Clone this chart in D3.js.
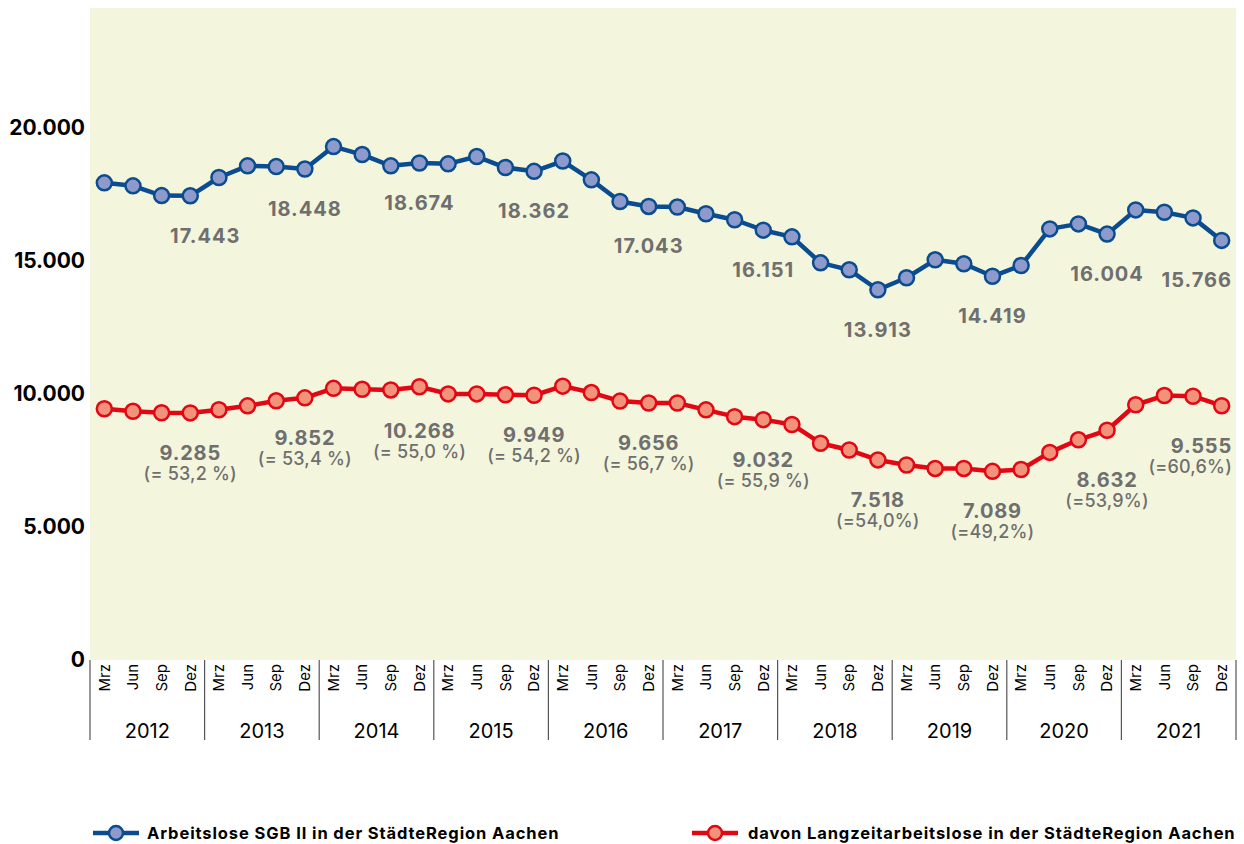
<!DOCTYPE html>
<html><head><meta charset="utf-8">
<script src="https://cdn.jsdelivr.net/npm/d3@7"></script>
<style>
body{margin:0;background:#fff;}
svg{display:block;font-family:Inter, "Liberation Sans", Arial, sans-serif;}
</style></head>
<body><svg id="chart" width="1244" height="844"></svg>
<script>
const years = ["2012","2013","2014","2015","2016","2017","2018","2019","2020","2021"];
const months = ["Mrz","Jun","Sep","Dez"];
const yTicks = [0, 5000, 10000, 15000, 20000];

const arbeitslose = [
  17930, 17818, 17450, 17443,
  18130, 18568, 18540, 18448,
  19292, 18993, 18568, 18674,
  18643, 18918, 18505, 18362,
  18750, 18043, 17229, 17043,
  17020, 16768, 16543, 16151,
  15900, 14925, 14662, 13913,
  14363, 15038, 14888, 14419,
  14824, 16200, 16388, 16004,
  16913, 16825, 16613, 15766
];
const langzeit = [
  9440, 9345, 9290, 9285,
  9405, 9550, 9740, 9852,
  10208, 10172, 10148, 10268,
  10000, 10000, 9965, 9949,
  10290, 10050, 9730, 9656,
  9656, 9400, 9144, 9032,
  8850, 8146, 7890, 7518,
  7326, 7198, 7198, 7089,
  7160, 7800, 8274, 8632,
  9592, 9938, 9912, 9555
];
const anteil = ["(= 53,2 %)","(= 53,4 %)","(= 55,0 %)","(= 54,2 %)","(= 56,7 %)","(= 55,9 %)","(=54,0%)","(=49,2%)","(=53,9%)","(=60,6%)"];
const seriesNames = ["Arbeitslose SGB II in der StädteRegion Aachen","davon Langzeitarbeitslose in der StädteRegion Aachen"];

const svg = d3.select("#chart");
const M = {left: 90, right: 1236, top: 8, bottom: 660};
const loc = d3.formatLocale({decimal:",", thousands:".", grouping:[3], currency:["","€"]});
const fmt = loc.format(",d");

const periods = [];
years.forEach(yr => months.forEach(m => periods.push(yr + "-" + m)));

const x = d3.scaleBand().domain(periods).range([M.left, M.right]).padding(0);
const cx = p => x(p) + x.bandwidth()/2;
const y = d3.scaleLinear().domain([0, 24500]).range([M.bottom, M.top]);

svg.append("rect").attr("x", M.left).attr("y", M.top).attr("width", M.right-M.left).attr("height", M.bottom-M.top).attr("fill", "#f3f6dc");

// y axis
const yAxis = d3.axisLeft(y).tickValues(yTicks).tickFormat(fmt).tickSize(0).tickPadding(0);
const yg = svg.append("g").attr("transform", `translate(${M.left-5},0)`).call(yAxis);
yg.select(".domain").remove();
yg.selectAll("text").attr("font-size", 21).attr("font-weight", 700).attr("fill", "#000")
  .attr("font-family", "Inter, 'Liberation Sans', Arial, sans-serif");

// x axis months
const xAxis = d3.axisBottom(x).tickSize(0).tickFormat(p => p.split("-")[1]);
const xg = svg.append("g").attr("transform", `translate(0,${M.bottom})`).call(xAxis);
xg.select(".domain").remove();
xg.selectAll("text").attr("transform", "rotate(-90)").attr("text-anchor", "end")
  .attr("x", -4).attr("y", 0).attr("dy", "0.35em")
  .attr("font-size", 15).attr("fill", "#000").attr("font-family", "Inter, 'Liberation Sans', Arial, sans-serif");

// year separators & labels
const yearBounds = years.map(yr => ({yr, x0: x(yr+"-Mrz"), x1: x(yr+"-Dez") + x.bandwidth()}));
svg.append("g").selectAll("line").data(yearBounds.map(d=>d.x0).concat([M.right]))
  .join("line").attr("x1", d=>d).attr("x2", d=>d).attr("y1", M.bottom).attr("y2", 740)
  .attr("stroke", "#555").attr("stroke-width", 1.2);
svg.append("g").selectAll("text").data(yearBounds).join("text")
  .attr("x", d => (d.x0+d.x1)/2).attr("y", 738).attr("text-anchor", "middle")
  .attr("font-size", 20).attr("fill", "#000").text(d => d.yr);

const series = [
  {name: seriesNames[0], values: arbeitslose, line: "#0a4c8f", fill: "#8d9acb"},
  {name: seriesNames[1], values: langzeit, line: "#e30613", fill: "#f0937a"}
];
const line = d3.line().x((d,i) => cx(periods[i])).y(d => y(d));
series.forEach(s => {
  svg.append("path").datum(s.values).attr("d", line).attr("fill", "none")
    .attr("stroke", s.line).attr("stroke-width", 4.5).attr("stroke-linejoin", "round");
  svg.append("g").selectAll("circle").data(s.values).join("circle")
    .attr("cx", (d,i) => cx(periods[i])).attr("cy", d => y(d)).attr("r", 7.5)
    .attr("fill", s.fill).attr("stroke", s.line).attr("stroke-width", 2.5);
});

// value labels at December of each year
const labelColor = "#6f6f6f";
years.forEach((yr, k) => {
  const p = yr + "-Dez";
  const i = periods.indexOf(p);
  const last = k === years.length - 1;
  const bv = arbeitslose[i];
  const bx = last ? M.right - 4 : cx(p) + (k === 0 ? 15 : 0);
  svg.append("text").attr("x", bx).attr("y", y(bv) + 47)
    .attr("text-anchor", last ? "end" : "middle")
    .attr("font-size", 20).attr("font-weight", 700).attr("fill", labelColor)
    .attr("letter-spacing", 1).text(fmt(bv));
  const rv = langzeit[i];
  const off = k === 8 ? 50 : (k === 2 ? 44 : 40);
  const rx = last ? M.right - 4 : cx(p);
  svg.append("text").attr("x", rx).attr("y", y(rv) + off + 7)
    .attr("text-anchor", last ? "end" : "middle")
    .attr("font-size", 20).attr("font-weight", 700).attr("fill", labelColor)
    .attr("letter-spacing", 0.8).text(fmt(rv));
  svg.append("text").attr("x", rx).attr("y", y(rv) + off + 27)
    .attr("text-anchor", last ? "end" : "middle")
    .attr("font-size", 18).attr("font-weight", 500).attr("fill", labelColor)
    .attr("letter-spacing", 0.2).text(anteil[k]);
});

// legend
const legendItems = [
  {s: series[0], x0: 93, tx: 147},
  {s: series[1], x0: 692, tx: 748}
];
legendItems.forEach(l => {
  const g = svg.append("g");
  g.append("line").attr("x1", l.x0).attr("x2", l.x0 + 46).attr("y1", 833).attr("y2", 833)
    .attr("stroke", l.s.line).attr("stroke-width", 4.5);
  g.append("circle").attr("cx", l.x0 + 23).attr("cy", 833).attr("r", 7)
    .attr("fill", l.s.fill).attr("stroke", l.s.line).attr("stroke-width", 2.5);
  g.append("text").attr("x", l.tx).attr("y", 839).attr("font-size", 16.5).attr("font-weight", 700)
    .attr("letter-spacing", 0.9).attr("fill", "#000").text(l.s.name);
});
</script></body></html>
